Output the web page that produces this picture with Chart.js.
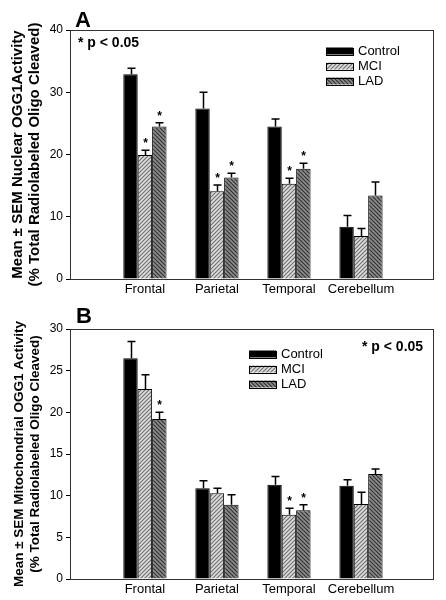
<!DOCTYPE html>
<html><head><meta charset="utf-8">
<script src="https://cdn.jsdelivr.net/npm/chart.js@4.4.1/dist/chart.umd.min.js"></script>
<style>
html,body{margin:0;padding:0;background:#fff;}
canvas{display:block;}
</style></head><body>
<canvas id="cA" width="446" height="295"></canvas>
<canvas id="cB" width="446" height="305"></canvas>
<script>
// ---- data ----
const categories = ['Frontal', 'Parietal', 'Temporal', 'Cerebellum'];
const seriesNames = ['Control', 'MCI', 'LAD'];

// Panel A: nuclear OGG1 activity
const nuclearControl = [32.9, 27.4, 24.5, 8.4];
const nuclearControlSem = [0.95, 2.6, 1.2, 1.8];
const nuclearMCI = [19.9, 14.1, 15.3, 6.9];
const nuclearMCISem = [0.8, 1.0, 0.9, 1.2];
const nuclearLAD = [24.5, 16.3, 17.7, 13.4];
const nuclearLADSem = [0.6, 0.7, 0.9, 2.2];
const nuclearSigMCI = [true, true, true, false];
const nuclearSigLAD = [true, true, true, false];
const nuclearTicks = [0, 10, 20, 30, 40];

// Panel B: mitochondrial OGG1 activity
const mitoControl = [26.5, 10.9, 11.3, 11.2];
const mitoControlSem = [2.0, 0.9, 1.0, 0.7];
const mitoMCI = [22.8, 10.3, 7.7, 9.0];
const mitoMCISem = [1.7, 0.6, 0.8, 1.4];
const mitoLAD = [19.2, 8.9, 8.25, 12.6];
const mitoLADSem = [0.8, 1.2, 0.65, 0.6];
const mitoSigMCI = [false, false, true, false];
const mitoSigLAD = [true, false, true, false];
const mitoTicks = [0, 5, 10, 15, 20, 25, 30];

const FONT = "'Liberation Sans', Arial, sans-serif";

function hatch(bg, fg, dir) {
  const s = 4;
  const c = document.createElement('canvas'); c.width = s; c.height = s;
  const g = c.getContext('2d');
  g.fillStyle = bg; g.fillRect(0, 0, s, s);
  g.strokeStyle = fg; g.lineWidth = 1.1;
  g.beginPath();
  if (dir > 0) {
    g.moveTo(0, s); g.lineTo(s, 0);
    g.moveTo(-1, 1); g.lineTo(1, -1);
    g.moveTo(s - 1, s + 1); g.lineTo(s + 1, s - 1);
  } else {
    g.moveTo(0, 0); g.lineTo(s, s);
    g.moveTo(-1, s - 1); g.lineTo(1, s + 1);
    g.moveTo(s - 1, -1); g.lineTo(s + 1, 1);
  }
  g.stroke();
  return document.createElement('canvas').getContext('2d').createPattern(c, 'repeat');
}
const fills = ['#000000', hatch('#dcdcdc', '#6e6e6e', 1), hatch('#8c8c8c', '#303030', -1)];

function makeChart(id, cfg) {
  const values = [cfg.control, cfg.mci, cfg.lad];
  const sems = [cfg.controlSem, cfg.mciSem, cfg.ladSem];
  const sigs = [null, cfg.sigMCI, cfg.sigLAD];

  const overlay = {
    id: 'overlay' + id,
    beforeDraw(chart) {
      const { ctx } = chart;
      ctx.save(); ctx.fillStyle = '#fff'; ctx.fillRect(0, 0, chart.width, chart.height); ctx.restore();
    },
    afterDatasetsDraw(chart) {
      const { ctx, chartArea: a } = chart;
      const ys = chart.scales.y;
      ctx.save();
      // error bars + significance stars
      for (let d = 0; d < 3; d++) {
        const meta = chart.getDatasetMeta(d);
        meta.data.forEach((el, k) => {
          const v = values[d][k];
          const top = ys.getPixelForValue(v + sems[d][k]);
          const x = Math.round(el.x) + 0.5;
          ctx.strokeStyle = '#000'; ctx.lineWidth = 1.5;
          ctx.beginPath();
          ctx.moveTo(x, el.y); ctx.lineTo(x, top);
          ctx.moveTo(x - 4, top); ctx.lineTo(x + 4, top);
          ctx.stroke();
          if (sigs[d] && sigs[d][k]) {
            ctx.fillStyle = '#000';
            ctx.font = 'bold 12px ' + FONT;
            ctx.textAlign = 'center'; ctx.textBaseline = 'alphabetic';
            ctx.fillText('*', x, top - 3);
          }
        });
      }
      // frame
      ctx.strokeStyle = '#333'; ctx.lineWidth = 1;
      ctx.strokeRect(Math.round(a.left) + 0.5, Math.round(a.top) + 0.5, Math.round(a.right - a.left), Math.round(a.bottom - a.top));
      // legend
      ctx.font = '13px ' + FONT;
      ctx.textAlign = 'left'; ctx.textBaseline = 'middle';
      seriesNames.forEach((n, s) => {
        const yy = cfg.legY + s * 15;
        ctx.fillStyle = fills[s];
        ctx.fillRect(cfg.legX, yy - 3.5, 27, 7);
        ctx.strokeStyle = '#000'; ctx.lineWidth = 1;
        ctx.strokeRect(cfg.legX + 0.5, Math.round(yy - 3.5) + 0.5, 27, 7);
        ctx.fillStyle = '#000';
        ctx.fillText(n, cfg.legX + 32, yy + 0.5);
      });
      // p-value note
      ctx.font = 'bold 14px ' + FONT;
      ctx.textBaseline = 'middle';
      ctx.fillText('* p < 0.05', cfg.pX, cfg.pY);
      // panel letter
      ctx.font = 'bold 22px ' + FONT;
      ctx.textBaseline = 'alphabetic';
      ctx.fillText(cfg.letter, cfg.letterX, cfg.letterY);
      ctx.restore();
    }
  };

  return new Chart(document.getElementById(id), {
    type: 'bar',
    data: {
      datasets: seriesNames.map((n, s) => ({
        label: n,
        data: values[s].map((v, k) => ({ x: k + 1, y: v })),
        backgroundColor: fills[s],
        borderColor: '#000',
        borderWidth: 1,
        categoryPercentage: 0.6,
        barPercentage: 1.0
      }))
    },
    options: {
      responsive: false,
      animation: false,
      layout: { padding: { left: 0, right: 13, top: cfg.padTop, bottom: 0 } },
      plugins: { legend: { display: false }, tooltip: { enabled: false } },
      scales: {
        x: {
          type: 'linear',
          min: -0.04, max: 5.0,
          offset: false,
          afterBuildTicks(s) { s.ticks = categories.map((c, k) => ({ value: k + 1 })); },
          grid: { display: false, drawTicks: false },
          border: { display: true, color: '#000', width: 1 },
          ticks: {
            autoSkip: false, maxRotation: 0, padding: 3, color: '#000',
            font: { family: FONT, size: 13 },
            callback: (v) => categories[Math.round(v) - 1] || ''
          },
          afterFit(s) { s.height = cfg.xH; }
        },
        y: {
          min: 0, max: cfg.yMax,
          afterBuildTicks(s) { s.ticks = cfg.ticks.map(v => ({ value: v })); },
          grid: { drawOnChartArea: false, drawTicks: true, tickLength: 4, color: '#000' },
          border: { display: true, color: '#000', width: 1 },
          ticks: { padding: 3, color: '#000', font: { family: FONT, size: 12 } },
          title: {
            display: true, text: cfg.title, color: '#000',
            font: { family: FONT, size: cfg.titleSize, weight: 'bold', lineHeight: cfg.titleLH },
            padding: { top: cfg.titlePad, bottom: 0 }
          },
          afterFit(s) { s.width = 70; }
        }
      }
    },
    plugins: [overlay]
  });
}

makeChart('cA', {
  control: nuclearControl, controlSem: nuclearControlSem,
  mci: nuclearMCI, mciSem: nuclearMCISem,
  lad: nuclearLAD, ladSem: nuclearLADSem,
  sigMCI: nuclearSigMCI, sigLAD: nuclearSigLAD,
  ticks: nuclearTicks, yMax: 40,
  title: ['Mean \u00b1 SEM Nuclear OGG1Activity', '(% Total Radiolabeled Oligo Cleaved)'],
  titleSize: 15, titleLH: 1.1, titlePad: 10,
  padTop: 30, xH: 16,
  legX: 326, legY: 51, pX: 78, pY: 43, letter: 'A', letterX: 75, letterY: 27
});

makeChart('cB', {
  control: mitoControl, controlSem: mitoControlSem,
  mci: mitoMCI, mciSem: mitoMCISem,
  lad: mitoLAD, ladSem: mitoLADSem,
  sigMCI: mitoSigMCI, sigLAD: mitoSigLAD,
  ticks: mitoTicks, yMax: 30,
  title: ['Mean \u00b1 SEM Mitochondrial OGG1 Activity', '(% Total Radiolabeled Oligo Cleaved)'],
  titleSize: 13.5, titleLH: 1.15, titlePad: 12,
  padTop: 34, xH: 21,
  legX: 249, legY: 59, pX: 362, pY: 52, letter: 'B', letterX: 76, letterY: 28
});
</script>
</body></html>
